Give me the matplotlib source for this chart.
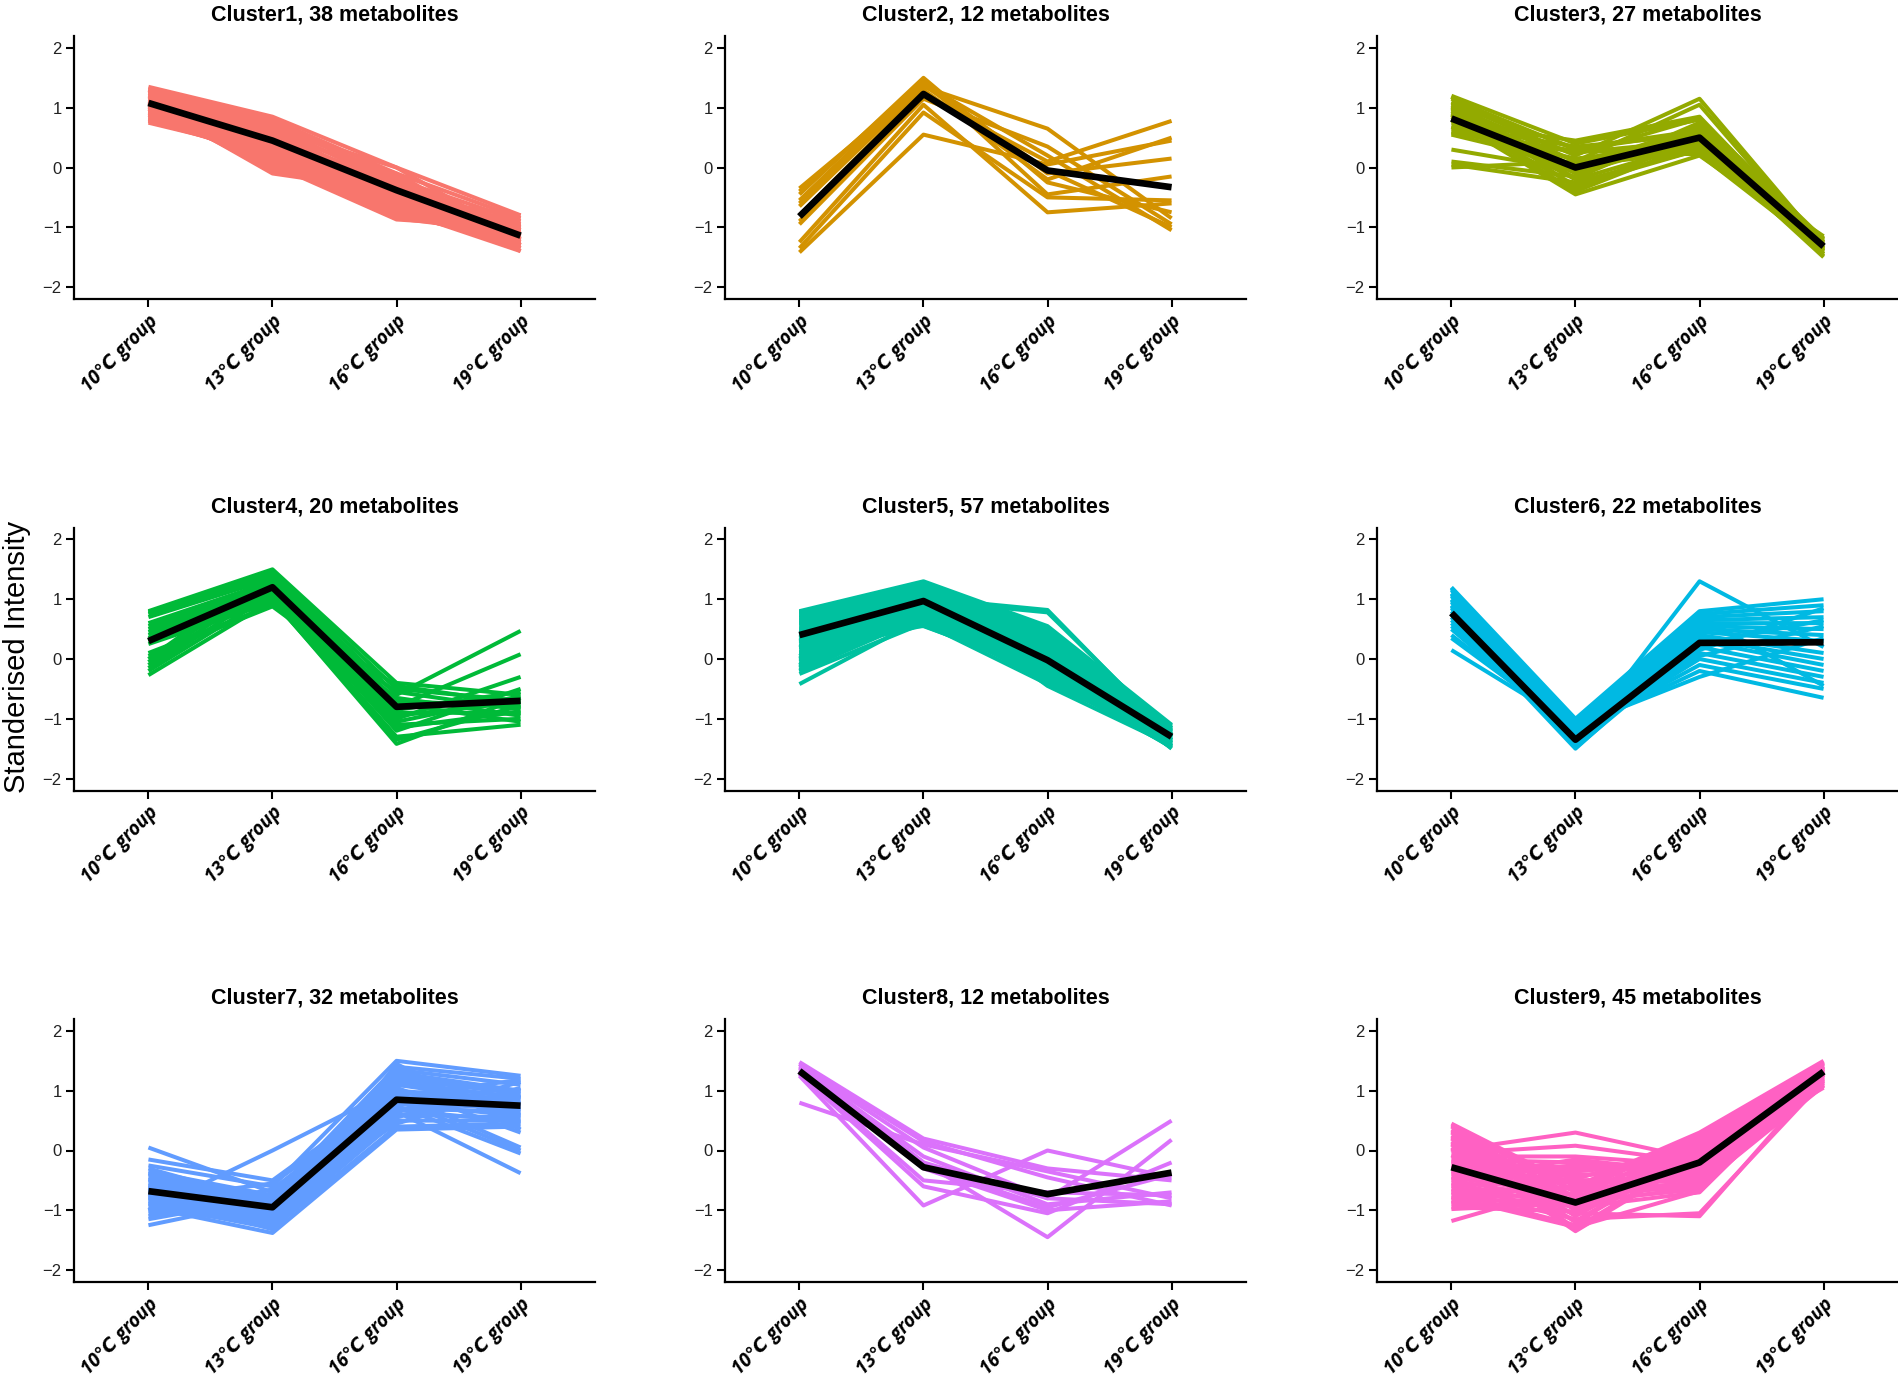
import matplotlib
matplotlib.use("Agg")
import matplotlib.pyplot as plt

groups = ["10℃ group", "13℃ group", "16℃ group", "19℃ group"]
y_ticks = [-2, -1, 0, 1, 2]
y_tick_labels = ["−2", "−1", "0", "1", "2"]
titles = ["Cluster1, 38 metabolites", "Cluster2, 12 metabolites", "Cluster3, 27 metabolites",
          "Cluster4, 20 metabolites", "Cluster5, 57 metabolites", "Cluster6, 22 metabolites",
          "Cluster7, 32 metabolites", "Cluster8, 12 metabolites", "Cluster9, 45 metabolites"]
colors = ["#F8766D", "#D39200", "#93AA00", "#00BA38", "#00C19F",
          "#00B9E3", "#619CFF", "#DB72FB", "#FF61C3"]

cluster1 = [
    [1.35, 0.85, 0.00, -0.80], [1.30, 0.80, -0.10, -0.85], [1.25, 0.75, -0.20, -0.90],
    [1.20, 0.70, -0.30, -0.95], [1.15, 0.65, -0.25, -1.00], [1.10, 0.60, -0.35, -1.05],
    [1.05, 0.55, -0.40, -1.10], [1.00, 0.50, -0.45, -1.15], [0.95, 0.45, -0.50, -1.20],
    [0.90, 0.40, -0.55, -1.25], [0.85, 0.35, -0.60, -1.30], [0.80, 0.30, -0.65, -1.35],
    [0.75, 0.25, -0.70, -1.40], [0.78, 0.20, -0.75, -1.30], [0.82, 0.15, -0.80, -1.20],
    [0.88, 0.10, -0.85, -1.10], [0.92, 0.05, -0.87, -1.00], [0.98, 0.00, -0.60, -0.90],
    [1.02, -0.05, -0.50, -0.80], [1.08, -0.10, -0.40, -1.25], [1.12, 0.30, -0.30, -1.35],
    [1.18, 0.45, -0.20, -1.40], [1.22, 0.55, -0.10, -1.30], [1.28, 0.65, 0.00, -1.20],
    [1.32, 0.72, -0.15, -1.15], [0.85, 0.80, -0.25, -1.05], [0.90, 0.60, -0.45, -0.95],
    [0.96, 0.50, -0.65, -0.85], [1.00, 0.40, -0.75, -1.10], [1.05, 0.35, -0.55, -1.20],
    [1.10, 0.25, -0.35, -1.30], [1.15, 0.48, -0.42, -1.12], [1.20, 0.38, -0.48, -1.18],
    [0.80, 0.58, -0.38, -1.02], [1.25, 0.62, -0.58, -1.08], [0.95, 0.52, -0.28, -1.22],
    [1.30, 0.42, -0.68, -1.28], [0.88, 0.32, -0.52, -0.98],
]
cluster2 = [
    [-1.42, 0.55, 0.05, 0.45], [-1.35, 0.92, -0.50, -0.55], [-1.25, 1.05, -0.75, -0.60],
    [-0.95, 1.15, 0.35, -0.95], [-0.90, 1.20, 0.10, 0.78], [-0.80, 1.30, -0.20, 0.50],
    [-0.65, 1.35, 0.65, -0.85], [-0.60, 1.40, 0.20, -1.05], [-0.55, 1.45, -0.10, 0.15],
    [-0.45, 1.50, -0.25, -0.75], [-0.40, 1.45, -0.45, -0.15], [-0.35, 1.38, -0.05, -1.00],
]
cluster3 = [
    [1.20, 0.40, 0.80, -1.20], [1.15, 0.30, 0.60, -1.25], [1.10, 0.20, 1.15, -1.30],
    [1.05, 0.10, 1.05, -1.35], [1.00, 0.00, 0.70, -1.40], [0.95, -0.10, 0.50, -1.45],
    [0.90, -0.20, 0.40, -1.50], [0.85, -0.30, 0.30, -1.20], [0.80, -0.45, 0.20, -1.25],
    [0.75, 0.45, 0.85, -1.30], [0.70, 0.35, 0.55, -1.35], [0.65, 0.25, 0.45, -1.40],
    [0.60, 0.15, 0.35, -1.45], [0.55, 0.05, 0.25, -1.15], [0.30, -0.05, 0.65, -1.28],
    [0.10, -0.15, 0.75, -1.38], [0.00, 0.10, 0.40, -1.42], [0.05, -0.25, 0.30, -1.32],
    [1.18, -0.35, 0.50, -1.22], [1.08, 0.32, 0.62, -1.36], [0.98, 0.22, 0.82, -1.48],
    [0.88, -0.40, 0.42, -1.18], [0.78, 0.12, 0.52, -1.26], [0.68, -0.08, 0.58, -1.34],
    [0.92, 0.02, 0.32, -1.44], [1.02, -0.18, 0.72, -1.24], [0.58, 0.28, 0.22, -1.39],
]
cluster4 = [
    [0.80, 1.50, -0.40, -0.60], [0.78, 1.45, -0.50, -0.70], [0.75, 1.40, -0.60, 0.47],
    [0.70, 1.35, -0.70, -0.80], [0.60, 1.30, -0.80, 0.08], [0.55, 1.25, -0.90, -0.90],
    [0.50, 1.20, -1.00, -0.30], [0.45, 1.15, -1.10, -1.00], [0.40, 1.10, -1.20, -0.50],
    [0.35, 1.05, -1.30, -1.10], [0.30, 1.00, -1.42, -0.65], [0.25, 0.95, -0.45, -0.75],
    [0.10, 0.90, -0.55, -0.85], [0.05, 0.88, -0.65, -0.95], [0.00, 1.48, -0.75, -1.05],
    [-0.05, 1.38, -0.85, -0.55], [-0.10, 1.28, -0.95, -0.72], [-0.15, 1.18, -1.05, -0.62],
    [-0.20, 1.08, -1.15, -0.88], [-0.27, 0.98, -1.35, -0.78],
]
cluster5 = [
    [0.80, 1.30, 0.55, -1.10], [0.78, 1.25, 0.50, -1.15], [0.76, 1.20, 0.45, -1.20],
    [0.74, 1.15, 0.40, -1.25], [0.72, 1.10, 0.35, -1.30], [0.70, 1.05, 0.30, -1.35],
    [0.68, 1.00, 0.25, -1.40], [0.65, 0.95, 0.20, -1.45], [0.62, 0.90, 0.15, -1.50],
    [0.60, 0.85, 0.10, -1.12], [0.57, 0.80, 0.05, -1.18], [0.55, 0.75, 0.00, -1.22],
    [0.52, 0.70, -0.05, -1.28], [0.50, 0.65, -0.10, -1.32], [0.47, 0.60, -0.15, -1.38],
    [0.45, 0.55, -0.20, -1.42], [0.42, 1.28, -0.25, -1.48], [0.40, 1.22, -0.30, -1.14],
    [0.37, 1.18, -0.35, -1.24], [0.35, 1.12, -0.40, -1.34], [0.32, 1.08, -0.45, -1.44],
    [0.30, 1.02, 0.82, -1.30], [0.27, 0.98, 0.78, -1.26], [0.25, 0.92, 0.52, -1.36],
    [0.22, 0.88, 0.48, -1.16], [0.20, 0.82, 0.42, -1.46], [0.17, 0.78, 0.38, -1.21],
    [0.15, 0.72, 0.32, -1.31], [0.12, 0.68, 0.28, -1.41], [0.10, 0.62, 0.22, -1.11],
    [0.07, 0.58, 0.18, -1.19], [0.05, 1.15, 0.12, -1.29], [0.02, 1.05, 0.08, -1.39],
    [0.00, 0.95, 0.02, -1.49], [-0.03, 0.85, -0.02, -1.23], [-0.05, 0.75, -0.08, -1.33],
    [-0.08, 0.65, -0.12, -1.43], [-0.10, 1.10, -0.18, -1.13], [-0.13, 1.00, -0.22, -1.27],
    [-0.15, 0.90, -0.28, -1.37], [-0.18, 0.80, -0.32, -1.47], [-0.20, 0.70, -0.38, -1.17],
    [-0.25, 0.60, -0.42, -1.25], [-0.42, 0.68, 0.10, -1.35], [0.79, 0.96, 0.05, -1.45],
    [0.69, 1.06, -0.05, -1.20], [0.59, 0.86, 0.15, -1.30], [0.49, 0.76, 0.25, -1.40],
    [0.39, 0.66, 0.35, -1.15], [0.29, 1.16, -0.15, -1.25], [0.19, 1.26, 0.00, -1.35],
    [0.09, 0.56, -0.25, -1.45], [-0.01, 0.94, 0.20, -1.18], [-0.11, 0.84, 0.30, -1.28],
    [-0.21, 0.74, -0.35, -1.38], [0.64, 1.04, -0.10, -1.48], [0.44, 0.99, 0.10, -1.22],
]
cluster6 = [
    [1.20, -1.00, 0.80, 1.00], [1.15, -1.05, 0.75, 0.90], [1.10, -1.10, 0.70, 0.80],
    [1.05, -1.15, 0.65, 0.70], [1.00, -1.20, 0.60, 0.60], [0.95, -1.25, 0.55, 0.50],
    [0.90, -1.30, 0.50, 0.40], [0.85, -1.35, 0.45, 0.30], [0.80, -1.40, 1.30, 0.20],
    [0.75, -1.45, 0.40, 0.10], [0.70, -1.50, 0.35, 0.00], [0.65, -1.42, 0.30, -0.10],
    [0.60, -1.38, 0.20, -0.20], [0.55, -1.32, 0.10, -0.30], [0.50, -1.28, 0.00, -0.40],
    [0.40, -1.22, -0.10, -0.50], [0.35, -1.18, -0.20, -0.65], [0.15, -1.12, -0.30, 0.35],
    [1.18, -1.48, 0.25, 0.65], [1.08, -1.36, 0.15, 0.85], [0.98, -1.26, 0.05, 0.55],
    [0.88, -1.44, 0.72, -0.45],
]
cluster7 = [
    [0.05, -0.70, 1.10, 0.80], [-0.15, -0.50, 1.00, 0.60], [-0.25, -0.60, 1.50, 1.25],
    [-0.35, -0.75, 1.40, 1.20], [-0.40, -0.80, 1.35, 1.10], [-0.45, -0.85, 1.30, 1.00],
    [-0.50, -0.90, 1.20, 0.95], [-0.55, -0.95, 1.10, 0.90], [-0.60, -1.00, 1.00, 0.85],
    [-0.65, -1.05, 0.90, 0.75], [-0.70, -1.10, 0.80, 0.70], [-0.75, -1.15, 0.70, 0.65],
    [-0.80, -1.20, 0.60, 0.55], [-0.85, -1.25, 0.50, 0.50], [-0.90, -1.30, 0.40, 0.45],
    [-0.95, -1.38, 0.35, 0.40], [-1.00, 0.00, 1.05, 0.30], [-1.05, -0.65, 0.95, 0.05],
    [-1.10, -0.72, 0.85, 0.00], [-1.15, -0.78, 0.75, -0.05], [-1.25, -0.82, 0.65, -0.38],
    [-0.30, -0.88, 0.55, 1.15], [-0.38, -0.92, 0.45, 1.05], [-0.48, -0.98, 1.25, 0.98],
    [-0.58, -1.02, 1.15, 0.88], [-0.68, -1.08, 0.98, 0.78], [-0.78, -1.12, 0.88, 0.68],
    [-0.88, -1.18, 0.78, 0.58], [-0.98, -1.22, 0.68, 0.48], [-0.62, -1.28, 1.45, 0.35],
    [-0.72, -1.32, 0.58, 0.92], [-0.82, -0.55, 0.92, 1.18],
]
cluster8 = [
    [1.48, 0.20, -0.30, -0.50], [1.45, 0.15, -0.45, -0.92], [1.42, 0.05, -0.80, 0.50],
    [1.40, -0.10, -0.90, -0.70], [1.38, -0.20, -1.45, 0.18], [1.35, -0.25, -0.95, -0.40],
    [1.33, -0.30, -1.00, -0.85], [1.30, -0.50, -0.70, -0.75], [1.28, -0.60, -1.05, -0.20],
    [1.25, -0.92, 0.00, -0.45], [1.45, -0.20, -0.80, -0.90], [0.80, 0.10, -0.35, -0.80],
]
cluster9 = [
    [0.45, -0.60, 0.30, 1.50], [0.40, -0.70, 0.25, 1.45], [0.35, -0.80, 0.20, 1.40],
    [0.30, -0.90, 0.15, 1.35], [0.25, -1.00, 0.10, 1.30], [0.20, -1.10, 0.05, 1.25],
    [0.15, -1.20, 0.00, 1.20], [0.10, -1.30, -0.05, 1.15], [0.05, -1.35, -0.10, 1.10],
    [0.00, 0.30, -0.15, 1.05], [-0.05, 0.08, -0.20, 1.48], [-0.10, -0.10, -0.25, 1.42],
    [-0.15, -0.20, -0.30, 1.38], [-0.20, -0.30, -0.35, 1.32], [-0.25, -0.40, -0.40, 1.28],
    [-0.30, -0.50, -0.45, 1.22], [-0.35, -0.55, -0.50, 1.18], [-0.40, -0.65, -0.55, 1.12],
    [-0.45, -0.75, -0.60, 1.08], [-0.50, -0.85, -0.65, 1.46], [-0.55, -0.95, -0.70, 1.36],
    [-0.60, -1.05, -1.10, 1.26], [-0.65, -1.15, -1.05, 1.16], [-0.70, -1.25, 0.28, 1.34],
    [-0.75, -0.62, 0.18, 1.24], [-0.80, -0.72, 0.08, 1.14], [-0.85, -0.82, -0.02, 1.44],
    [-0.90, -0.92, -0.12, 1.30], [-0.95, -1.02, -0.22, 1.20], [-1.18, -0.58, -0.32, 1.10],
    [0.42, -0.68, -0.42, 1.40], [0.32, -0.78, -0.52, 1.33], [0.22, -0.88, -0.62, 1.27],
    [0.12, -0.98, 0.22, 1.37], [0.02, -1.08, 0.12, 1.17], [-0.08, -1.18, 0.02, 1.23],
    [-0.18, -0.45, -0.08, 1.29], [-0.28, -0.35, -0.18, 1.35], [-0.38, -0.25, -0.28, 1.41],
    [-0.48, -0.15, -0.38, 1.19], [-0.58, -0.52, -0.48, 1.13], [-0.68, -0.62, -0.58, 1.09],
    [-0.78, -1.28, -0.68, 1.31], [-0.88, -0.48, 0.15, 1.21], [-0.98, -0.88, -0.25, 1.39],
]

centers = [
    [1.08, 0.45, -0.38, -1.14],
    [-0.82, 1.23, -0.05, -0.33],
    [0.82, 0.00, 0.50, -1.32],
    [0.30, 1.20, -0.80, -0.70],
    [0.40, 0.97, -0.02, -1.30],
    [0.77, -1.35, 0.27, 0.28],
    [-0.68, -0.95, 0.85, 0.75],
    [1.33, -0.28, -0.73, -0.37],
    [-0.28, -0.87, -0.20, 1.32],
]
clusters = [cluster1, cluster2, cluster3, cluster4, cluster5,
            cluster6, cluster7, cluster8, cluster9]

W, H = 1899, 1388
fig = plt.figure(figsize=(W / 100, H / 100), dpi=100)
lefts = [74, 725, 1377]
tops = [36, 527.5, 1019]
aw, ah = 521, 263
x = [1, 2, 3, 4]

for i in range(9):
    r, c = divmod(i, 3)
    ax = fig.add_axes([lefts[c] / W, 1 - (tops[r] + ah) / H, aw / W, ah / H])
    for line in clusters[i]:
        ax.plot(x, line, color=colors[i], lw=2.9, solid_capstyle="butt",
                solid_joinstyle="round")
    ax.plot(x, centers[i], color="black", lw=4.8, solid_capstyle="butt",
            solid_joinstyle="round")
    ax.set_xlim(0.4, 4.6)
    ax.set_ylim(-2.2, 2.2)
    for s in ["top", "right"]:
        ax.spines[s].set_visible(False)
    for s in ["left", "bottom"]:
        ax.spines[s].set_linewidth(1.6)
        ax.spines[s].set_color("black")
    ax.set_yticks(y_ticks)
    ax.set_yticklabels(y_tick_labels, fontsize=12, color="#222222",
                       family=["Liberation Sans", "DejaVu Sans"])
    ax.set_xticks(x)
    ax.set_xticklabels(groups, rotation=45, ha="right", va="top",
                       rotation_mode="anchor", fontsize=13.5, fontstyle="italic",
                       fontweight="bold", family=["Open Sans", "DejaVu Sans"])
    ax.tick_params(axis="both", length=5.8, width=1.5, color="black")
    ax.tick_params(axis="y", pad=3)
    ax.tick_params(axis="x", pad=3)
    ax.set_title(titles[i], fontsize=15.5, fontweight="bold",
                 family=["Liberation Sans", "DejaVu Sans"], pad=11)

fig.text(17 / W, 1 - 657 / H, "Standerised Intensity", rotation=90, fontsize=21,
         ha="center", va="center", family=["Liberation Sans", "DejaVu Sans"])

fig.savefig("out.png", dpi=100, facecolor="white")
